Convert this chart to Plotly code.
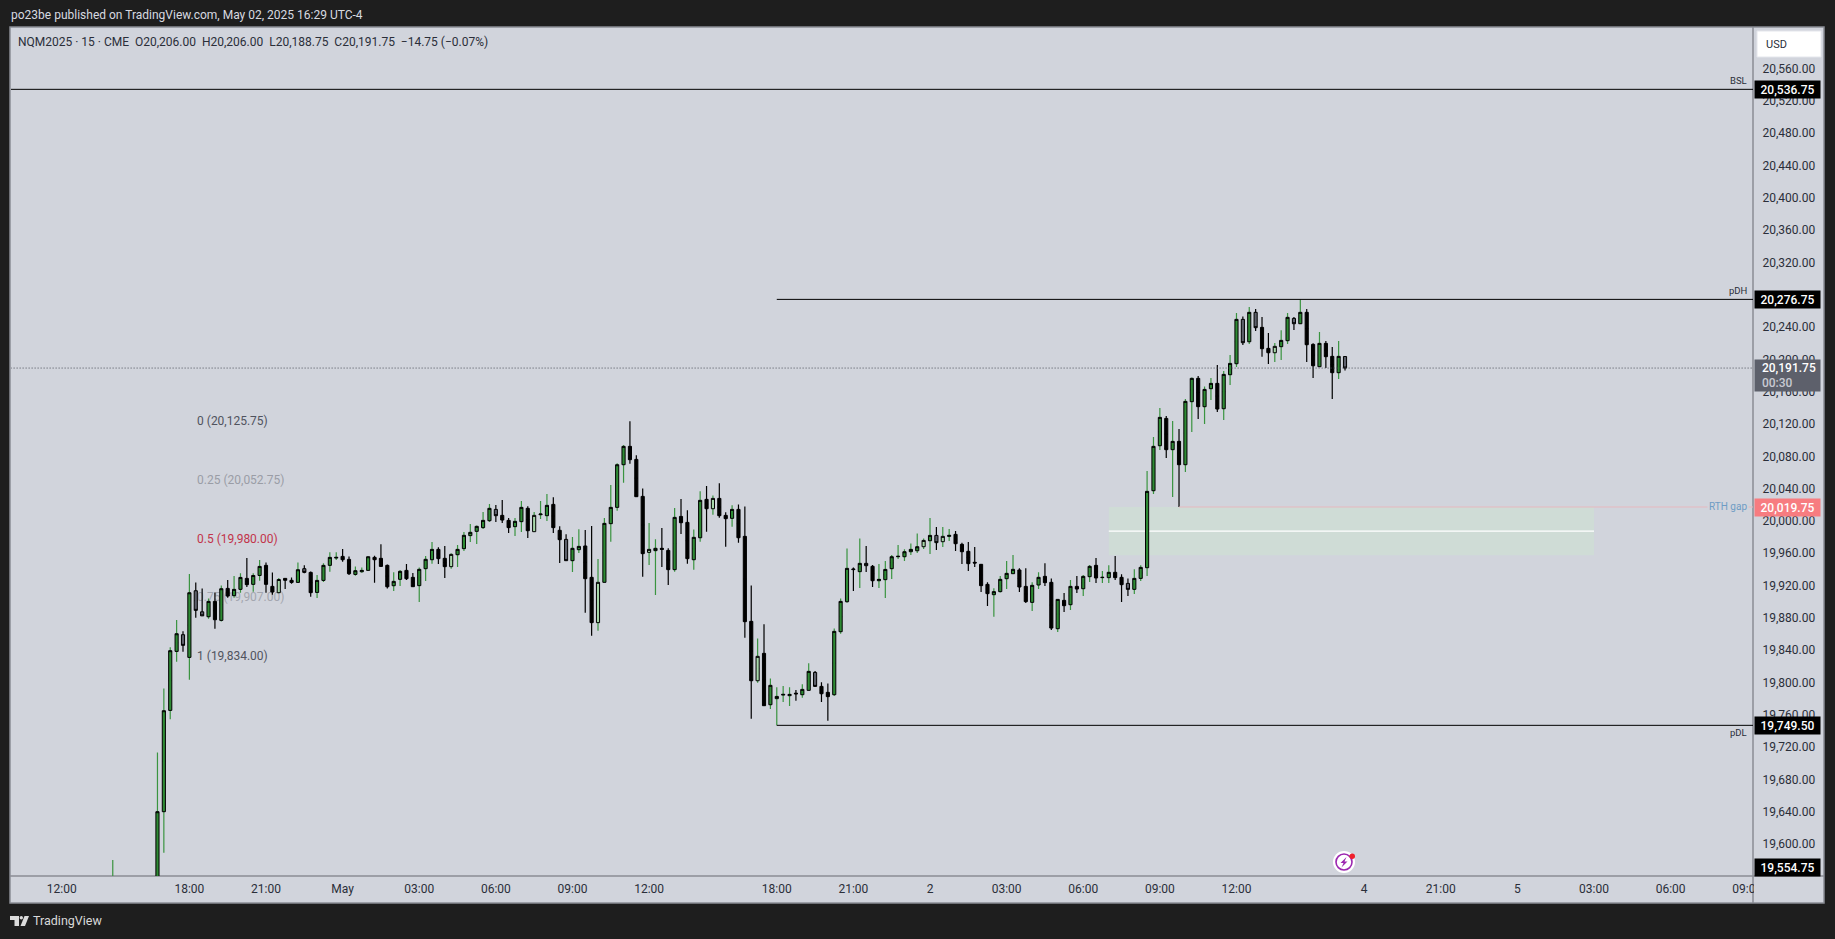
import plotly.graph_objects as go

# ---------- data (15 min NQM2025 bars) ----------
bar_index = [-12] + list(range(-5, 182))

opens = [
19540,19540,19642.6,19768,19841,19861.7,19833.6,19916.1,19890,19883.9,
19902.9,19879.4,19919,19910,19917.8,19931.4,19924,19935,19947.5,19921.5,
19913.7,19931.4,19929,19926.4,19943.4,19938.8,19914,19928.9,19947.5,19956.6,
19958.6,19954.9,19936.3,19939.6,19941.3,19957.4,19956.2,19947.5,19922.3,19930.2,
19941.3,19932.7,19922.4,19943.4,19954.5,19967.3,19956.2,19945.9,19960.7,19968.2,
19984.3,19989.6,19994.2,20002.8,20016.8,20009.4,20003.2,19995.4,20001.6,20018.1,
19989.2,20010.2,20009,20023,19990.9,19979.7,19953.3,19966.9,19971.5,19932.7,
19876.6,19926.5,19999.1,20019.3,20072.1,20094.8,20078.7,20032.9,19963.6,19965.7,
19968.6,19966,19942.2,20008.1,20000.7,19954.5,19981.7,20029.2,20017.6,20030.4,
20009.4,20005.7,20016.8,19983.4,19878.2,19804.7,19838.6,19775,19782.5,19787,
19786.2,19789.3,19787.4,19792.8,19815,19797.7,19790.3,19787.4,19865.4,19902.5,
19943,19939.7,19950,19946.3,19928.5,19929.8,19943.4,19958.2,19958.2,19964.4,
19965.6,19970.6,19978,19984.6,19976.8,19983.4,19985.9,19973.5,19964.9,19951.3,
19948.8,19924,19911.2,19915,19931,19937.2,19941.8,19921.5,19901.7,19923.2,
19933.9,19926.5,19869.1,19904.2,19898.8,19921.5,19918.6,19933.5,19947.5,19932.3,
19932.3,19938.9,19932.7,19925.2,19917.8,19931.4,19944.6,20039.9,20095.6,20129.4,
20090.7,20101,20072.1,20150.1,20179,20143.9,20166.2,20172.8,20141.4,20183.5,
20197.1,20252,20224.3,20260.7,20242.1,20216.1,20210.7,20218.2,20225.6,20253.2,
20246.6,20260.7,20221,20193.4,20222.3,20206.2,20186,20206,
]
highs = [
19582.7,19716,19795.2,19846,19879.8,19865.8,19936.8,19926.4,19919,19906.6,
19914,19922.7,19929.3,19934.3,19937.6,19956.6,19937.6,19954,19951.2,19938.8,
19932,19931.4,19932.6,19951.2,19947.5,19940,19935.5,19950,19963.6,19963.6,
19967.7,19958.6,19946.2,19945,19958.2,19959.5,19973.5,19948.7,19938.9,19941.7,
19949.2,19938,19945,19959.1,19976.4,19969.8,19971.5,19962.4,19972.7,19988.8,
19998.7,19997,20013.5,20023.5,20022.2,20028.4,20006,20006,20027.2,20020.6,
20013.5,20027.2,20035.8,20031.7,19995.8,19985.9,19982.6,19992.1,19991.3,19996.2,
19955.4,20006,20047,20073.8,20096.5,20125.75,20083.7,20042.8,20000,19979.7,
19993.7,19968.6,20018.5,20029.6,20015.6,19992,20039.1,20045.7,20034.1,20049,
20013.1,20021.8,20023,20020.5,19922.7,19857.1,19874.5,19807.6,19796.5,19798.1,
19796.5,19793.2,19800.2,19826.2,19816.7,19802.7,19801.4,19869.5,19906.6,19968.5,
19945,19980.9,19971.4,19948,19949.1,19952.9,19960.3,19972.7,19967.3,19974.7,
19987.1,19980.9,20006.1,19994.9,19994.9,19992.5,19990,19975.6,19976.4,19970.2,
19949.2,19926.5,19919.1,19934.3,19952.9,19960.3,19943.8,19943.8,19926.5,19938.9,
19950,19931.4,19905.4,19913.3,19929.4,19934.3,19935.6,19947.9,19956.6,19940.5,
19947.5,19959.1,19936.4,19931.4,19942.6,19947.5,20064.3,20106.3,20142.2,20132.3,
20126.1,20116.2,20153.4,20180.2,20181.9,20169,20179.4,20195.5,20188,20207.8,
20259.8,20255.7,20267.3,20264.8,20254.9,20235.1,20222.7,20238.4,20259.8,20254.9,
20276.75,20264.8,20222.3,20236.3,20225.2,20217.7,20225.2,20206,
]
lows = [
19530,19530,19591.8,19756.9,19828.2,19840.6,19805.9,19882.7,19885,19881.5,
19869.1,19878,19907.5,19907.5,19913.7,19920.7,19914.9,19928.5,19913.7,19911.2,
19913,19918.2,19924.8,19926,19937.6,19908.7,19907,19926.9,19939.6,19954.1,
19952,19935.5,19934.7,19938.4,19941.3,19926,19946,19919,19915.8,19921.9,
19929.4,19921.1,19902.1,19928.1,19949.6,19949.2,19931.8,19943.4,19945.5,19965.3,
19976.4,19973.9,19992.5,20001.2,20001.2,19999.9,19987.5,19983.8,19988.8,19981.4,
19989,20004.9,20002.4,19987.5,19950.4,19953,19939.3,19962.8,19888.9,19860.5,
19866.7,19926.5,19976.8,20015.2,20049.9,20073.4,20032.5,19933.5,19948,19910.8,
19945.5,19923.2,19939.7,19986.3,19949.6,19942.1,19976.8,19989.2,20010.2,20006.5,
19970.6,19995.4,19975.6,19858,19757.7,19802.3,19773.8,19769.7,19749.5,19778.3,
19773.4,19780,19783.7,19792.8,19797.7,19778.3,19755.2,19785.8,19862.9,19901.3,
19915.7,19919.4,19939.2,19920.7,19919.4,19907.1,19930.6,19955.3,19952.9,19960.3,
19962.8,19967.7,19961.5,19966.5,19970.2,19977.6,19965.2,19949.2,19940.5,19945.5,
19914.5,19897.2,19884,19914,19918.2,19937,19914.5,19900.9,19891,19918.2,
19921.9,19867.5,19865,19889.8,19892.2,19913.3,19909.6,19926.9,19925.7,19925.7,
19925.7,19929.4,19902.1,19909.6,19912,19928.1,19934.3,20035.8,20090.2,20080.3,
20032.1,20019.75,20063,20112.5,20128.6,20122.4,20152.1,20137.3,20127.4,20170.7,
20193,20220.2,20221.5,20237.5,20205.8,20196.7,20199.2,20201.6,20221.5,20238.8,
20246.3,20199.2,20179.4,20193,20191.7,20153.4,20178.1,20188.75,
]
closes = [
19545,19642.6,19767.6,19841.9,19862.9,19848.5,19913.6,19891.8,19885,19902.9,
19880.2,19918.6,19909.5,19917.8,19932.6,19923.6,19935,19946.2,19924,19914.5,
19930,19929,19926.4,19942.1,19938.8,19913.7,19928.9,19947.5,19957.4,19957.4,
19954.5,19937.2,19940.9,19941.3,19958.2,19954.5,19946.2,19921,19927.7,19940.1,
19931,19921.1,19942.6,19955,19967.3,19955.8,19945.9,19961.1,19967.3,19984.7,
19988.4,19995.8,20003.2,20018.1,20009,20003.6,19994.2,20002,20019.3,19990.4,
20009.4,20011,20021.8,19994.2,19979.3,19953.3,19968.6,19971,19931,19876.6,
19926.5,19999.5,20019.3,20072.1,20094.8,20078.3,20032.5,19962,19967.3,19968.6,
19967.3,19942.2,20006.9,20000.3,19955.8,19982.2,20028,20017.6,20030.4,20009,
20005.3,20016.8,19981.7,19877.8,19804.7,19834.9,19773.8,19799,19785.3,19787.8,
19787.8,19788.5,19794,19816.3,19797.7,19788.6,19785,19865.8,19902.9,19943.8,
19942.3,19950,19947.1,19928.5,19930.2,19942.5,19958.2,19958.7,19964.4,19967.3,
19970.6,19978.4,19984.6,19975.6,19983.4,19984.6,19974.3,19964.4,19949.6,19950.5,
19922.4,19912.5,19915,19930.2,19937.6,19942.6,19920.7,19902.6,19922.8,19932.7,
19926.1,19869.9,19905.4,19897.6,19921.5,19918.2,19933.9,19946.3,19931.9,19932.7,
19938.9,19932.3,19923.6,19917.8,19931.4,19945,20039.1,20094.8,20130.7,20090.7,
20101,20072.1,20150.5,20179,20143.9,20165.3,20172.8,20141,20183.9,20197.5,
20252,20223.1,20260.7,20241.7,20215.7,20210.7,20218.6,20226,20254.5,20246.6,
20260.7,20220.6,20194.6,20222.3,20205.8,20186,20206.2,20191.75,
]
# body style per bar: g green, k black, d grey, l light green
styles = list(
    "gggggdgddg" "kgkggkggkk" "lkkgdkgggg" "kkgggkkkgg" "kkgggkklgg" "ggggdkkggk"
    "lggkkdggkk" "lggggkkklg" "kkgkkggklk" "kgkkklkggg" "gkggdkkggg" "kgdkgggggg"
    "glgdlgkkkk" "kkggggkkgg" "kkgkgkggkg" "gkkdgggggk" "gkggkggkgg" "gdgdkklggd"
    "gkkgkkgd"
)
assert len(bar_index) == len(opens) == len(highs) == len(lows) == len(closes) == len(styles)

fib_labels = ["0 (20,125.75)", "0.25 (20,052.75)", "0.5 (19,980.00)", "0.75 (19,907.00)", "1 (19,834.00)"]
fib_levels = [20125.75, 20052.75, 19980.0, 19907.0, 19834.0]
fib_colors = ["#50535e", "#9a9da6", "#c2334a", "#a3a6af", "#50535e"]

price_ticks = [19600, 19640, 19680, 19720, 19760, 19800, 19840, 19880, 19920, 19960, 20000, 20040,
               20080, 20120, 20160, 20200, 20240, 20320, 20360, 20400, 20440, 20480, 20520, 20560]
time_tickvals = [-20, 0, 12, 24, 36, 48, 60, 72, 92, 104, 116, 128, 140, 152, 164, 184, 196, 208, 220, 232, 244]
time_ticktext = ["12:00", "18:00", "21:00", "May", "03:00", "06:00", "09:00", "12:00", "18:00", "21:00", "2",
                 "03:00", "06:00", "09:00", "12:00", "4", "21:00", "5", "03:00", "06:00", "09:00"]

BSL, PDH, PDL, GAP_TOP, GAP_BOTTOM, GAP_MID, LAST = 20536.75, 20276.75, 19749.5, 20019.75, 19960.0, 19990.0, 20191.75
LEVEL_START, GAP_LINE_START, RECT_START, RECT_END = 92, 155, 144, 220

# ---------- look ----------
BG, PANEL = "#1e1e1e", "#d1d4dc"
BORDER = "#8a8d95"
GREEN, WICK_GREEN, LIGHT, GREY = "#2e8b34", "#3a9440", "#a8d8aa", "#5d606b"
FONT = "Roboto"
L, R, T, B = 11, 1753, 27, 876


def px(x):
    return (x - L) / (R - L)


def py(y):
    return (B - y) / (B - T)


fig = go.Figure()

n = len(bar_index)
mids = [(opens[k] + closes[k]) / 2 for k in range(n)]
for wick_colour, members in ((WICK_GREEN, "gl"), ("#000000", "kd")):
    ids = [k for k in range(n) if styles[k] in members]
    fig.add_trace(go.Candlestick(
        x=[bar_index[k] for k in ids],
        open=[mids[k] for k in ids], close=[mids[k] for k in ids],
        high=[highs[k] for k in ids], low=[lows[k] for k in ids],
        whiskerwidth=0, hoverinfo="skip", showlegend=False,
        increasing=dict(line=dict(color=wick_colour, width=1.2), fillcolor=wick_colour),
        decreasing=dict(line=dict(color=wick_colour, width=1.2), fillcolor=wick_colour),
    ))
for key, fill in (("g", GREEN), ("k", "#000000"), ("d", GREY), ("l", LIGHT)):
    ids = [k for k in range(n) if styles[k] == key]
    fig.add_trace(go.Candlestick(
        x=[bar_index[k] for k in ids],
        open=[opens[k] for k in ids], close=[closes[k] for k in ids],
        high=[max(opens[k], closes[k]) for k in ids], low=[min(opens[k], closes[k]) for k in ids],
        whiskerwidth=0, hoverinfo="skip", showlegend=False,
        increasing=dict(line=dict(color="#000000", width=1), fillcolor=fill),
        decreasing=dict(line=dict(color="#000000", width=1), fillcolor=fill),
    ))

shapes = []


def chrome(kind, x0, y0, x1, y1, layer="below", **kw):
    shapes.append(dict(type=kind, xref="paper", yref="paper", x0=px(x0), x1=px(x1), y0=py(y0), y1=py(y1), layer=layer, **kw))


def poly(points, fill, layer="above"):
    d = "M " + " L ".join(f"{px(a):.6f},{py(b):.6f}" for a, b in points) + " Z"
    shapes.append(dict(type="path", xref="paper", yref="paper", path=d, fillcolor=fill, line=dict(width=0), layer=layer))


# panel & frame
chrome("rect", 10, 27, 1824, 903, fillcolor=PANEL, line=dict(color=BORDER, width=1.5))
chrome("line", 1753, 27, 1753, 903, line=dict(color=BORDER, width=1.5))
chrome("line", 10, 876, 1824, 876, line=dict(color=BORDER, width=1.5))

# gap box
shapes.append(dict(type="rect", xref="x", yref="y", x0=RECT_START, x1=RECT_END, y0=GAP_BOTTOM, y1=GAP_TOP,
                   fillcolor="#cfdcd6", line=dict(width=0), layer="below"))
shapes.append(dict(type="line", xref="x", yref="y", x0=RECT_START, x1=RECT_END, y0=GAP_MID, y1=GAP_MID,
                   line=dict(color="#ffffff", width=1.2), layer="below"))
# fib labels sit under the candles; the text is placed a hair above its level
LABEL_NUDGE = 2
for text, level, colour in zip(fib_labels, fib_levels, fib_colors):
    shapes.append(dict(type="line", xref="x", yref="y", x0=1.2, x1=16, y0=level + LABEL_NUDGE, y1=level + LABEL_NUDGE,
                       line=dict(width=0, color=PANEL), layer="below",
                       label=dict(text=text, textposition="start", xanchor="left", yanchor="middle", padding=0,
                                  font=dict(family=FONT, size=12, color=colour))))
# price levels
for y0, start in ((BSL, -28), (PDH, LEVEL_START), (PDL, LEVEL_START)):
    shapes.append(dict(type="line", xref="x", yref="y", x0=start, x1=244.9, y0=y0, y1=y0, line=dict(color="#000000", width=1)))
shapes.append(dict(type="line", xref="x", yref="y", x0=GAP_LINE_START, x1=244.9, y0=GAP_TOP, y1=GAP_TOP,
                   line=dict(color="#e6b8bf", width=1)))
shapes.append(dict(type="line", xref="x", yref="y", x0=-28, x1=244.9, y0=LAST, y1=LAST,
                   line=dict(color="#4a4d58", width=1, dash="1px,2px")))

# clip the last time label at the price scale
chrome("rect", 1754, 877, 1823, 902, layer="above", fillcolor=PANEL, line=dict(width=0))
# USD button
chrome("rect", 1757, 31, 1821, 57, layer="above", fillcolor="#ffffff", line=dict(color="#e4e6ec", width=1))

# event icon
chrome("circle", 1333, 851, 1355, 873, layer="above", fillcolor="#ffffff", line=dict(width=0))
chrome("circle", 1336, 854, 1352, 870, layer="above", fillcolor="rgba(0,0,0,0)", line=dict(color="#9c27b0", width=1.6))
poly([(1346.5, 857), (1340.5, 863), (1343.5, 863), (1341.5, 867.5), (1347.5, 861.5), (1344.5, 861.5)], "#9c27b0")
chrome("circle", 1349.5, 853.5, 1355, 859, layer="above", fillcolor="#f0202c", line=dict(width=0))

# TradingView logo
poly([(10, 916), (19, 916), (19, 926), (14.5, 926), (14.5, 920), (10, 920)], "#dcdcdc")
chrome("circle", 19.6, 916, 23, 919.4, layer="above", fillcolor="#dcdcdc", line=dict(width=0))
poly([(24.5, 916), (29, 916), (25, 926), (20.5, 926)], "#dcdcdc")

annotations = []


def label(text, x, y, colour="#131722", size=12, anchor="left", **kw):
    annotations.append(dict(text=text, xref="paper", yref="paper", x=px(x), y=py(y), xanchor=anchor, yanchor="middle",
                            showarrow=False, font=dict(family=FONT, size=size, color=colour), **kw))


def tag(text, y, bg, h=15, **kw):
    opts = dict(text=text, xref="paper", x=px(1754), xanchor="left", yanchor="middle", showarrow=False,
                bgcolor=bg, width=63, height=h, borderpad=1, align="center",
                font=dict(family=FONT, size=12, color="#ffffff", weight=500))
    opts.update(y=y, yref="y")
    opts.update(kw)
    annotations.append(opts)


label("po23be published on TradingView.com, May 02, 2025 16:29 UTC-4", 8.5, 15, colour="#d8dae0", size=12)
label("NQM2025 · 15 · CME\u00a0\u00a0O20,206.00\u00a0\u00a0H20,206.00\u00a0\u00a0L20,188.75\u00a0\u00a0C20,191.75\u00a0\u00a0−14.75 (−0.07%)",
      15.5, 42, colour="#2a2e39", size=12)
label("USD", 1764, 44.5, colour="#2a2e39", size=11)
label("BSL", 1749, 80, colour="#2a2e39", size=9.5, anchor="right")
label("pDH", 1749, 290, colour="#2a2e39", size=9.5, anchor="right")
label("pDL", 1749, 732.5, colour="#2a2e39", size=9.5, anchor="right")
label("RTH gap", 1749, 506, colour="#6e9cc4", size=10, anchor="right", bgcolor=PANEL, borderpad=1)
label("TradingView", 31, 920.5, colour="#d9d9d9", size=12.5)

tag(f"{BSL:,.2f}", BSL, "#000000")
tag(f"{PDH:,.2f}", PDH, "#000000")
tag(f"{PDL:,.2f}", PDL, "#000000")
tag(f"{GAP_TOP:,.2f}", GAP_TOP, "#f77c80")
tag(f"\u00a0\u00a0{LAST:,.2f}<br>\u00a0\u00a0<span style='color:#c8cad2'>00:30</span>", 20183, GREY, h=29, align="left")
tag("19,554.75", py(867), "#000000", yref="paper")

fig.update_layout(
    width=1835, height=939, autosize=False,
    margin=dict(l=L, r=1835 - R, t=T, b=939 - B, pad=0),
    paper_bgcolor=BG, plot_bgcolor=PANEL,
    showlegend=False, boxmode="overlay", dragmode=False,
    shapes=shapes, annotations=annotations,
    xaxis=dict(range=[-27.94, 244.9], rangeslider=dict(visible=False), showgrid=False, zeroline=False,
               tickmode="array", tickvals=time_tickvals, ticktext=time_ticktext, ticks="outside", ticklen=2,
               tickcolor="rgba(0,0,0,0)", tickfont=dict(family=FONT, size=12, color="#2a2e39"), showline=False),
    yaxis=dict(range=[19563.0, 20613.9], side="right", showgrid=False, zeroline=False,
               tickmode="array", tickvals=price_ticks, ticktext=[f"{v:,.2f}" for v in price_ticks], ticks="outside",
               ticklen=6, ticklabelshift=-2, tickcolor="rgba(0,0,0,0)", tickfont=dict(family=FONT, size=12, color="#2a2e39"),
               showline=False),
)

fig.write_html("out.html", config=dict(displayModeBar=False),
               post_script="document.body.style.margin='0';document.body.style.overflow='hidden';document.body.style.background='#1e1e1e';")
